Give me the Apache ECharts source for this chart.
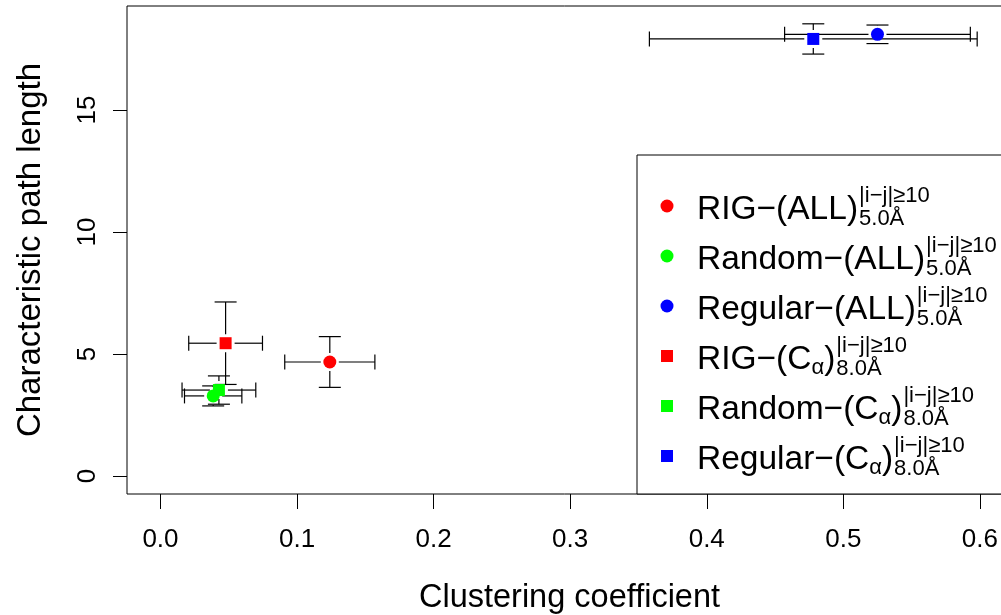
<!DOCTYPE html>
<html><head><meta charset="utf-8">
<script src="https://cdn.jsdelivr.net/npm/echarts@6/dist/echarts.min.js"></script>
<style>html,body{margin:0;padding:0;background:#fff}#c{width:1001px;height:615px}</style>
</head><body><div id="c"></div>
<script>
// ---- data ----
const seriesNames = ['RIG-(ALL)', 'Random-(ALL)', 'Regular-(ALL)', 'RIG-(Ca)', 'Random-(Ca)', 'Regular-(Ca)'];
const clusteringCoef = [0.124, 0.0386, 0.525, 0.0477, 0.0428, 0.478];
const clusteringErr = [0.033, 0.021, 0.068, 0.027, 0.027, 0.120];
const pathLength = [4.67, 3.28, 18.10, 5.44, 3.52, 17.91];
const pathLengthErr = [1.04, 0.41, 0.38, 1.69, 0.58, 0.62];
const seriesColors = ['#FF0000', '#00FF00', '#0000FF', '#FF0000', '#00FF00', '#0000FF'];
const seriesSymbols = ['circle', 'circle', 'circle', 'rect', 'rect', 'rect'];
const xTicks = [0, 0.1, 0.2, 0.3, 0.4, 0.5, 0.6];
const yTicks = [0, 5, 10, 15];
const xTitle = 'Clustering coefficient';
const yTitle = 'Characteristic path length';
// legend label pieces: prefix, greek subscript, suffix, superscript, subscript
const legendPrefix = ['RIG\u2212(ALL)', 'Random\u2212(ALL)', 'Regular\u2212(ALL)', 'RIG\u2212(C', 'Random\u2212(C', 'Regular\u2212(C'];
const legendGreek = ['', '', '', '\u03b1', '\u03b1', '\u03b1'];
const legendSuffix = ['', '', '', ')', ')', ')'];
const legendSup = ['|i\u2212j|\u226510', '|i\u2212j|\u226510', '|i\u2212j|\u226510', '|i\u2212j|\u226510', '|i\u2212j|\u226510', '|i\u2212j|\u226510'];
const legendSub = ['5.0\u00c5', '5.0\u00c5', '5.0\u00c5', '8.0\u00c5', '8.0\u00c5', '8.0\u00c5'];

const FONT = '"Liberation Sans", Arial, Helvetica, sans-serif';
const chart = echarts.init(document.getElementById('c'), null, {renderer: 'canvas'});

const errData = clusteringCoef.map((x, i) => [x, pathLength[i], clusteringErr[i], pathLengthErr[i]]);

function renderErr(params, api) {
  const x = api.value(0), y = api.value(1), ex = api.value(2), ey = api.value(3);
  const c = api.coord([x, y]);
  const l = api.coord([x - ex, y]), r = api.coord([x + ex, y]);
  const t = api.coord([x, y + ey]), b = api.coord([x, y - ey]);
  const g = 9, hc = 7.5, vc = 11;
  const st = {stroke: '#000', lineWidth: 1.2};
  const ln = (x1, y1, x2, y2) => ({type: 'line', shape: {x1, y1, x2, y2}, style: st});
  const ch = [];
  if (c[0] - g > l[0]) ch.push(ln(l[0], c[1], c[0] - g, c[1]));
  if (c[0] + g < r[0]) ch.push(ln(c[0] + g, c[1], r[0], c[1]));
  ch.push(ln(l[0], c[1] - hc, l[0], c[1] + hc));
  ch.push(ln(r[0], c[1] - hc, r[0], c[1] + hc));
  if (c[1] - g > t[1]) ch.push(ln(c[0], t[1], c[0], c[1] - g));
  if (c[1] + g < b[1]) ch.push(ln(c[0], c[1] + g, c[0], b[1]));
  ch.push(ln(c[0] - vc, t[1], c[0] + vc, t[1]));
  ch.push(ln(c[0] - vc, b[1], c[0] + vc, b[1]));
  return {type: 'group', children: ch};
}

const series = [{
  type: 'custom', name: 'errors', renderItem: renderErr, data: errData,
  encode: {x: 0, y: 1}, z: 2, silent: true, clip: false
}];
seriesNames.forEach((n, i) => {
  series.push({
    type: 'scatter', name: n, data: [[clusteringCoef[i], pathLength[i]]],
    symbol: seriesSymbols[i], symbolSize: seriesSymbols[i] === 'circle' ? 13 : 12,
    itemStyle: {color: seriesColors[i], opacity: 1}, z: 3, silent: true
  });
});

// legend via graphic
const mctx = document.createElement('canvas').getContext('2d');
function tw(text, size) { mctx.font = size + 'px ' + FONT; return mctx.measureText(text).width; }
const graphic = [{
  type: 'rect', shape: {x: 637, y: 155, width: 380, height: 339},
  style: {fill: '#fff', stroke: '#000', lineWidth: 1}, z: 10
}];
const MAIN = 33.5, SMALL = 22;
legendPrefix.forEach((p, i) => {
  const yc = 206 + i * 50;
  const sym = seriesSymbols[i];
  if (sym === 'circle') graphic.push({type: 'circle', shape: {cx: 667, cy: yc, r: 6.5}, style: {fill: seriesColors[i]}, z: 11});
  else graphic.push({type: 'rect', shape: {x: 661, y: yc - 6, width: 12, height: 12}, style: {fill: seriesColors[i]}, z: 11});
  let x = 697;
  const txt = (t, xx, yy, size) => graphic.push({type: 'text', x: xx, y: yy, z: 11,
    style: {text: t, font: size + 'px ' + FONT, fill: '#000', align: 'left', verticalAlign: 'middle'}});
  txt(p, x, yc + 4, MAIN); x += tw(p, MAIN);
  if (legendGreek[i]) { txt(legendGreek[i], x, yc + 12, SMALL); x += tw(legendGreek[i], SMALL); }
  if (legendSuffix[i]) { txt(legendSuffix[i], x, yc + 4, MAIN); x += tw(legendSuffix[i], MAIN); }
  txt(legendSup[i], x + 1, yc - 10, SMALL);
  txt(legendSub[i], x + 1, yc + 13, SMALL);
});

chart.setOption({
  animation: false,
  backgroundColor: '#fff',
  grid: {left: 127, top: 6, width: 885, height: 488, show: true, borderColor: '#000', borderWidth: 1,
    backgroundColor: 'transparent', containLabel: false, outerBoundsMode: 'none'},
  xAxis: {
    type: 'value', min: -0.0245, max: 0.6235,
    name: xTitle, nameLocation: 'middle', nameGap: 88,
    nameTextStyle: {fontFamily: FONT, fontSize: 32.5, color: '#000'},
    axisLine: {show: false, onZero: false},
    axisTick: {show: true, length: 15, lineStyle: {color: '#000'}, customValues: xTicks},
    axisLabel: {show: true, customValues: xTicks, fontFamily: FONT, fontSize: 26, color: '#000', margin: 33,
      formatter: v => v.toFixed(1)},
    splitLine: {show: false}
  },
  yAxis: {
    type: 'value', min: -0.74, max: 19.26,
    name: yTitle, nameLocation: 'middle', nameGap: 80, nameRotate: 90,
    nameTextStyle: {fontFamily: FONT, fontSize: 33, color: '#000'},
    axisLine: {show: false, onZero: false},
    axisTick: {show: true, length: 14, lineStyle: {color: '#000'}, customValues: yTicks},
    axisLabel: {show: true, customValues: yTicks, fontFamily: FONT, fontSize: 26, color: '#000', margin: 26, rotate: 90,
      formatter: v => String(v)},
    splitLine: {show: false}
  },
  series: series,
  graphic: graphic
});
</script>
</body></html>
